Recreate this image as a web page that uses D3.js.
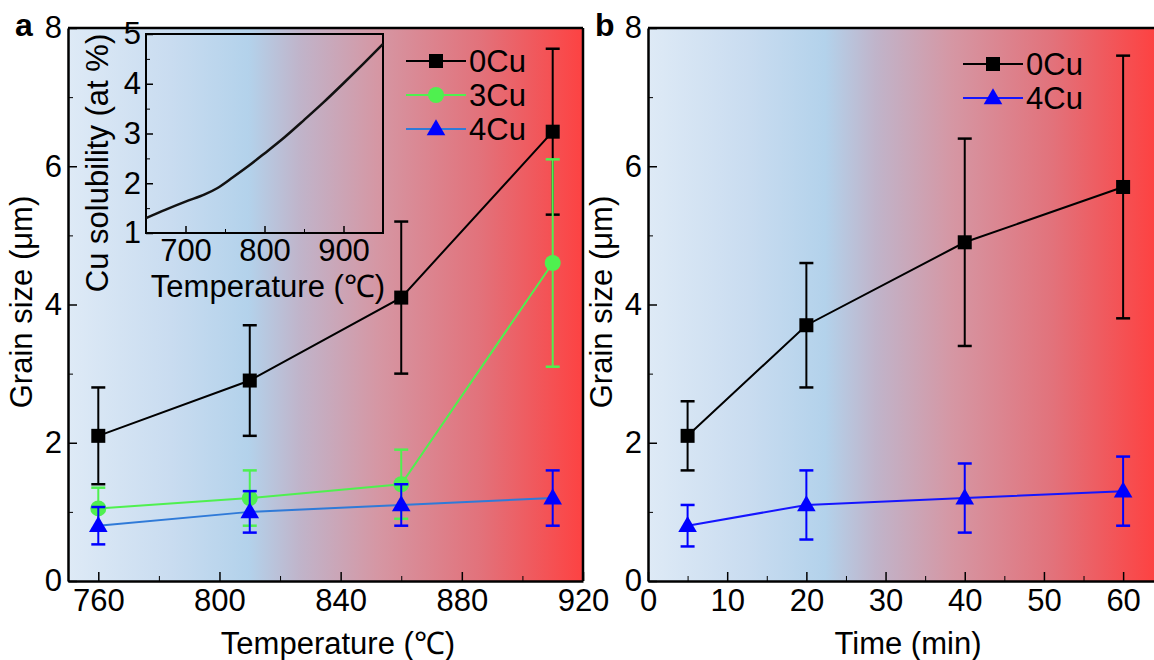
<!DOCTYPE html>
<html>
<head>
<meta charset="utf-8">
<script src="https://cdn.jsdelivr.net/npm/d3@7"></script>
<style>
  body { margin: 0; background: #fff; }
  svg { font-family: "Liberation Sans", Arial, sans-serif; }
</style>
</head>
<body>
<div id="chart"></div>
<script>
// panel a data
var temps = [760, 810, 860, 910];
var cu0_a = [2.1, 2.9, 4.1, 6.5];
var cu0_a_err = [0.7, 0.8, 1.1, 1.2];
var cu3_a = [1.05, 1.2, 1.4, 4.6];
var cu3_a_err = [0.3, 0.4, 0.5, 1.5];
var cu4_a = [0.8, 1.0, 1.1, 1.2];
var cu4_a_err = [0.27, 0.3, 0.3, 0.4];

// panel b data
var times = [5, 20, 40, 60];
var cu0_b = [2.1, 3.7, 4.9, 5.7];
var cu0_b_err = [0.5, 0.9, 1.5, 1.9];
var cu4_b = [0.8, 1.1, 1.2, 1.3];
var cu4_b_err = [0.3, 0.5, 0.5, 0.5];

// inset: Cu solubility vs temperature
var inset_temp = [650, 675, 700, 725, 740, 760, 780, 800, 825, 850, 875, 900, 925, 950];
var inset_sol = [1.3, 1.47, 1.63, 1.78, 1.9, 2.12, 2.35, 2.6, 2.92, 3.27, 3.63, 4.01, 4.4, 4.8];

var y_ticks = [0, 2, 4, 6, 8];
var xa_ticks = [760, 800, 840, 880, 920];
var xb_ticks = [0, 10, 20, 30, 40, 50, 60];

var width = 1154, height = 660;
var fs = 31;

var svg = d3.select("#chart")
    .append("svg")
    .attr("width", width)
    .attr("height", height);

// background gradient
var grad = svg.append("defs").append("linearGradient")
    .attr("id", "bg")
    .attr("x1", 0).attr("x2", 1).attr("y1", 0).attr("y2", 0);
[[0, "#deeaf6"], [0.2, "#c9dcf0"], [0.35, "#b3d2eb"], [0.45, "#c0b4ca"],
 [0.6, "#d597a4"], [0.8, "#e2727b"], [1, "#fd4242"]].forEach(function(s) {
    grad.append("stop").attr("offset", s[0]).attr("stop-color", s[1]);
});

var y_scale = d3.scaleLinear().domain([0, 8]).range([581, 28]);
var xa_scale = d3.scaleLinear().domain([750, 920]).range([68, 583]);
var xb_scale = d3.scaleLinear().domain([0, 63.9]).range([648, 1154]);

function styleAxis(g) {
    g.selectAll("text").attr("font-size", fs).attr("fill", "#000")
        .attr("font-family", "Liberation Sans, Arial, sans-serif");
    g.selectAll("line").attr("stroke", "#000").attr("stroke-width", 1.5);
}

function drawPanel(x_scale, ticks, minor, letter, xtitle, titleX) {
    var x0 = x_scale.range()[0], x1 = x_scale.range()[1];
    svg.append("rect")
        .attr("x", x0).attr("y", 28)
        .attr("width", x1 - x0).attr("height", 581 - 28)
        .attr("fill", "url(#bg)");

    // minor ticks
    svg.append("g")
        .attr("transform", "translate(0,581)")
        .call(d3.axisBottom(x_scale).tickValues(minor).tickSize(-5).tickFormat(""))
        .call(function(g) { g.select(".domain").remove(); });
    svg.append("g")
        .attr("transform", "translate(" + x0 + ",0)")
        .call(d3.axisLeft(y_scale).tickValues([1, 3, 5, 7]).tickSize(-5).tickFormat(""))
        .call(function(g) { g.select(".domain").remove(); });

    var xa = svg.append("g")
        .attr("transform", "translate(0,581)")
        .call(d3.axisBottom(x_scale).tickValues(ticks).tickSizeInner(-9).tickSizeOuter(0).tickPadding(8));
    var ya = svg.append("g")
        .attr("transform", "translate(" + x0 + ",0)")
        .call(d3.axisLeft(y_scale).tickValues(y_ticks).tickSizeInner(-9).tickSizeOuter(0).tickPadding(6));
    [xa, ya].forEach(function(g) {
        styleAxis(g);
        g.select(".domain").attr("stroke-width", 2.5);
    });

    // top border
    svg.append("line")
        .attr("x1", x0).attr("x2", x1).attr("y1", 28).attr("y2", 28)
        .attr("stroke", "#000").attr("stroke-width", 2.5);

    svg.append("text")
        .attr("x", titleX).attr("y", 654)
        .attr("text-anchor", "middle").attr("font-size", fs)
        .text(xtitle);
    svg.append("text")
        .attr("transform", "translate(" + (x0 - 36) + ",302) rotate(-90)")
        .attr("text-anchor", "middle").attr("font-size", fs)
        .text("Grain size (μm)");
    svg.append("text")
        .attr("x", x0 - 53).attr("y", 36)
        .attr("font-size", 32).attr("font-weight", "bold")
        .text(letter);
}

drawPanel(xa_scale, xa_ticks, [780, 820, 860, 900], "a", "Temperature (℃)", 338);
drawPanel(xb_scale, xb_ticks, [5, 15, 25, 35, 45, 55], "b", "Time (min)", 908);

// right border of panel a
svg.append("line")
    .attr("x1", 583).attr("x2", 583).attr("y1", 28).attr("y2", 581)
    .attr("stroke", "#000").attr("stroke-width", 2.5);

// symbols
function marker(g, shape, cx, cy, color) {
    if (shape == "square") {
        g.append("rect").attr("x", cx - 7).attr("y", cy - 7)
            .attr("width", 14).attr("height", 14).attr("fill", color);
    } else if (shape == "circle") {
        g.append("circle").attr("cx", cx).attr("cy", cy).attr("r", 8).attr("fill", color);
    } else {
        g.append("path")
            .attr("d", d3.symbol().type(d3.symbolTriangle).size(150)())
            .attr("transform", "translate(" + cx + "," + (cy + 1) + ")")
            .attr("fill", color);
    }
}

function drawSeries(x_scale, xs, vals, errs, lineColor, color, shape) {
    var g = svg.append("g");
    xs.forEach(function(x, i) {
        var cx = x_scale(x);
        g.append("line")
            .attr("x1", cx).attr("x2", cx)
            .attr("y1", y_scale(vals[i] - errs[i])).attr("y2", y_scale(vals[i] + errs[i]))
            .attr("stroke", color).attr("stroke-width", 2);
        [vals[i] - errs[i], vals[i] + errs[i]].forEach(function(v) {
            g.append("line")
                .attr("x1", cx - 7).attr("x2", cx + 7)
                .attr("y1", y_scale(v)).attr("y2", y_scale(v))
                .attr("stroke", color).attr("stroke-width", 2.5);
        });
    });
    var line = d3.line()
        .x(function(d) { return x_scale(d[0]); })
        .y(function(d) { return y_scale(d[1]); });
    g.append("path")
        .attr("d", line(d3.zip(xs, vals)))
        .attr("fill", "none").attr("stroke", lineColor).attr("stroke-width", 2);
    xs.forEach(function(x, i) {
        marker(g, shape, x_scale(x), y_scale(vals[i]), color);
    });
}

drawSeries(xa_scale, temps, cu0_a, cu0_a_err, "#000", "#000", "square");
drawSeries(xa_scale, temps, cu3_a, cu3_a_err, "#4ff04f", "#4ff04f", "circle");
drawSeries(xa_scale, temps, cu4_a, cu4_a_err, "#2f7ad8", "#0000ff", "triangle");

drawSeries(xb_scale, times, cu0_b, cu0_b_err, "#000", "#000", "square");
drawSeries(xb_scale, times, cu4_b, cu4_b_err, "#1515ff", "#0000ff", "triangle");

// legends
function legend(x, rows) {
    rows.forEach(function(r) {
        var g = svg.append("g");
        g.append("line").attr("x1", x).attr("x2", x + 60)
            .attr("y1", r.y).attr("y2", r.y)
            .attr("stroke", r.line).attr("stroke-width", 2);
        marker(g, r.shape, x + 30, r.y, r.color);
        g.append("text").attr("x", x + 63).attr("y", r.y)
            .attr("dy", "0.36em").attr("font-size", fs)
            .text(r.name);
    });
}
legend(406, [
    {y: 61, name: "0Cu", line: "#000", color: "#000", shape: "square"},
    {y: 95, name: "3Cu", line: "#4ff04f", color: "#4ff04f", shape: "circle"},
    {y: 129, name: "4Cu", line: "#2f7ad8", color: "#0000ff", shape: "triangle"}
]);
legend(963, [
    {y: 64, name: "0Cu", line: "#000", color: "#000", shape: "square"},
    {y: 98, name: "4Cu", line: "#1515ff", color: "#0000ff", shape: "triangle"}
]);

// inset
var xi_scale = d3.scaleLinear().domain([650, 950]).range([146, 383]);
var yi_scale = d3.scaleLinear().domain([1, 5]).range([233, 34]);

svg.append("rect")
    .attr("x", 146).attr("y", 34).attr("width", 237).attr("height", 199)
    .attr("fill", "none").attr("stroke", "#000").attr("stroke-width", 2);

svg.append("g")
    .attr("transform", "translate(0,233)")
    .call(d3.axisBottom(xi_scale).tickValues([750, 850]).tickSize(-4).tickFormat(""))
    .call(function(g) { g.select(".domain").remove(); });
svg.append("g")
    .attr("transform", "translate(146,0)")
    .call(d3.axisLeft(yi_scale).tickValues([1.5, 2.5, 3.5, 4.5]).tickSize(-4).tickFormat(""))
    .call(function(g) { g.select(".domain").remove(); });
var xi_axis = svg.append("g")
    .attr("transform", "translate(0,233)")
    .call(d3.axisBottom(xi_scale).tickValues([700, 800, 900]).tickSizeInner(-7).tickSizeOuter(0).tickPadding(6));
var yi_axis = svg.append("g")
    .attr("transform", "translate(146,0)")
    .call(d3.axisLeft(yi_scale).tickValues([1, 2, 3, 4, 5]).tickFormat(d3.format("d"))
        .tickSizeInner(-7).tickSizeOuter(0).tickPadding(5));
[xi_axis, yi_axis].forEach(function(g) {
    styleAxis(g);
    g.select(".domain").remove();
});

svg.append("path")
    .attr("d", d3.line()
        .x(function(d) { return xi_scale(d[0]); })
        .y(function(d) { return yi_scale(d[1]); })
        .curve(d3.curveMonotoneX)(d3.zip(inset_temp, inset_sol)))
    .attr("fill", "none").attr("stroke", "#111").attr("stroke-width", 2.5);

svg.append("text")
    .attr("x", 268).attr("y", 297)
    .attr("text-anchor", "middle").attr("font-size", fs)
    .text("Temperature (℃)");
svg.append("text")
    .attr("transform", "translate(108,163) rotate(-90)")
    .attr("text-anchor", "middle").attr("font-size", fs)
    .text("Cu solubility (at %)");
</script>
</body>
</html>
